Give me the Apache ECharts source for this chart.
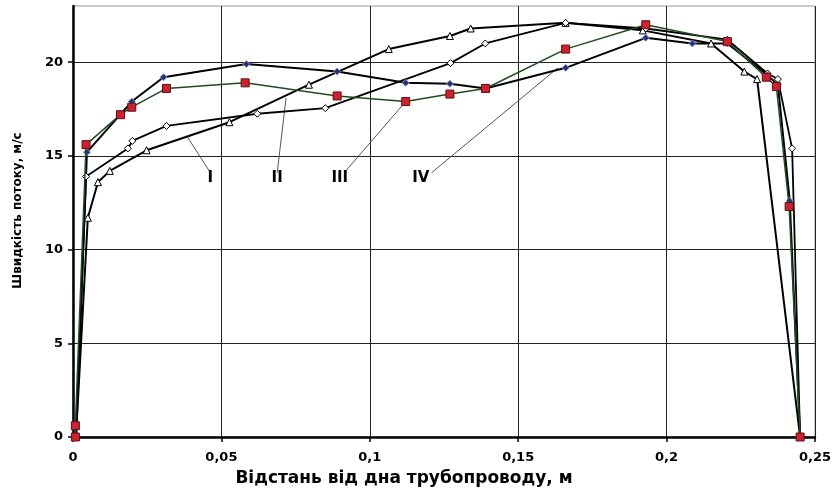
<!DOCTYPE html>
<html>
<head>
<meta charset="utf-8">
<script src="https://cdn.jsdelivr.net/npm/echarts@6/dist/echarts.min.js"></script>
<style>html,body{margin:0;padding:0;background:#fff}#c{width:834px;height:492px}</style>
</head>
<body>
<div id="c"></div>
<script>
// Curve I (open triangles)
const curveI = [[0.001,0],[0.005,11.7],[0.0084,13.6],[0.0124,14.2],[0.0248,15.3],[0.0527,16.8],[0.0795,18.8],[0.1064,20.7],[0.127,21.4],[0.134,21.8],[0.166,22.1],[0.192,21.7],[0.215,21.0],[0.2262,19.5],[0.2305,19.1],[0.245,0]];
// Curve II (open diamonds)
const curveII = [[0.001,0],[0.0044,13.9],[0.0185,15.4],[0.02,15.8],[0.0315,16.6],[0.0621,17.25],[0.085,17.55],[0.1272,19.95],[0.1389,21.0],[0.166,22.1],[0.193,21.8],[0.2205,21.2],[0.234,19.4],[0.2375,19.1],[0.2423,15.4],[0.245,0]];
// Curve III (red squares)
const curveIII = [[0.0008,0],[0.0008,0.6],[0.0044,15.6],[0.016,17.2],[0.0198,17.6],[0.0315,18.6],[0.058,18.9],[0.089,18.2],[0.1121,17.9],[0.127,18.3],[0.139,18.6],[0.166,20.7],[0.193,22.0],[0.2205,21.1],[0.2336,19.2],[0.237,18.7],[0.2413,12.3],[0.245,0]];
// Curve IV (navy diamonds)
const curveIV = [[0.001,0],[0.0047,15.2],[0.0198,17.9],[0.0305,19.2],[0.0584,19.9],[0.089,19.5],[0.1121,18.9],[0.127,18.85],[0.139,18.6],[0.166,19.7],[0.193,21.3],[0.2087,21.0],[0.2205,21.0],[0.234,19.3],[0.2375,18.8],[0.2415,12.6],[0.245,0]];

const xTicks = [0, 0.05, 0.1, 0.15, 0.2, 0.25];
const yTicks = [0, 5, 10, 15, 20];

// Annotation labels and leader lines: [labelX, labelY], leader [fromX, fromY, toX, toY]
const annNames = ['I', 'II', 'III', 'IV'];
const annPos = [[0.0463,13.8],[0.0688,13.8],[0.0899,13.8],[0.1172,13.8]];
const annLeader = [[0.0463,14.1,0.0386,16.0],[0.0688,14.1,0.0718,18.1],[0.0919,14.2,0.1121,17.9],[0.1208,14.1,0.1634,19.7]];

const font = 'DejaVu Sans';
const chart = echarts.init(document.getElementById('c'));

const series = [];
annLeader.forEach((l, i) => {
  series.push({
    type: 'line', data: [[l[0], l[1]], [l[2], l[3]]], symbol: 'none', silent: true,
    lineStyle: {color: '#555', width: 1}, z: 1
  });
});
series.push({
  type: 'scatter', symbolSize: 0, silent: true, z: 5,
  itemStyle: {opacity: 1, color: '#000'},
  data: annPos.map((p, i) => ({value: p, name: annNames[i]})),
  label: {show: true, position: 'inside', formatter: p => p.name, fontFamily: font, fontWeight: 'bold', fontSize: 15, color: '#000', opacity: 1}
});
series.push({
  type: 'line', data: curveI, symbol: 'triangle', symbolSize: 7, z: 3,
  lineStyle: {color: '#000', width: 2}, itemStyle: {color: '#fff', borderColor: '#000', borderWidth: 1}
});
series.push({
  type: 'line', data: curveII, symbol: 'diamond', symbolSize: 7, z: 3,
  lineStyle: {color: '#000', width: 1.8}, itemStyle: {color: '#fff', borderColor: '#000', borderWidth: 1}
});
series.push({
  type: 'line', data: curveIV, symbol: 'diamond', symbolSize: 7, z: 3,
  lineStyle: {color: '#000', width: 2}, itemStyle: {color: '#22307a', borderColor: '#8a96d0', borderWidth: 1}
});
series.push({
  type: 'line', data: curveIII, symbol: 'rect', symbolSize: 8, z: 4,
  lineStyle: {color: '#1e4d1e', width: 1.5}, itemStyle: {color: '#d0202e', borderColor: '#5a1018', borderWidth: 1}
});

chart.setOption({
  animation: false,
  grid: {left: 73, right: 16, top: 6, bottom: 55, show: true, borderColor: '#999', borderWidth: 1},
  xAxis: {
    type: 'value', min: xTicks[0], max: xTicks[xTicks.length-1], interval: 0.05,
    name: 'Відстань від дна трубопроводу, м', nameLocation: 'middle', nameGap: 33,
    nameTextStyle: {fontFamily: font, fontWeight: 'bold', fontSize: 17, color: '#000', padding: [0,80,0,0]},
    axisLine: {show: true, lineStyle: {color: '#000', width: 2.5}},
    axisTick: {show: true, length: 5, lineStyle: {color: '#000', width: 1.5}},
    axisLabel: {fontFamily: font, fontWeight: 'bold', fontSize: 13, color: '#000', margin: 14,
      formatter: v => String(+(+v).toFixed(2)).replace('.', ',')},
    splitLine: {show: true, lineStyle: {color: '#222', width: 1}}
  },
  yAxis: {
    type: 'value', min: yTicks[0], max: 23, interval: 5,
    name: 'Швидкість потоку, м/с', nameLocation: 'middle', nameGap: 49,
    nameTextStyle: {fontFamily: font, fontWeight: 'bold', fontSize: 12, color: '#000', padding: [0,0,0,22]},
    axisLine: {show: true, lineStyle: {color: '#000', width: 2.5}},
    axisTick: {show: true, length: 5, customValues: yTicks, lineStyle: {color: '#000', width: 1.5}},
    axisLabel: {fontFamily: font, fontWeight: 'bold', fontSize: 13, color: '#000', margin: 10,
      customValues: yTicks, formatter: v => (yTicks.indexOf(+v) >= 0 ? String(v) : '')},
    splitLine: {show: true, lineStyle: {color: '#222', width: 1}}
  },
  series: series
});
</script>
</body>
</html>
